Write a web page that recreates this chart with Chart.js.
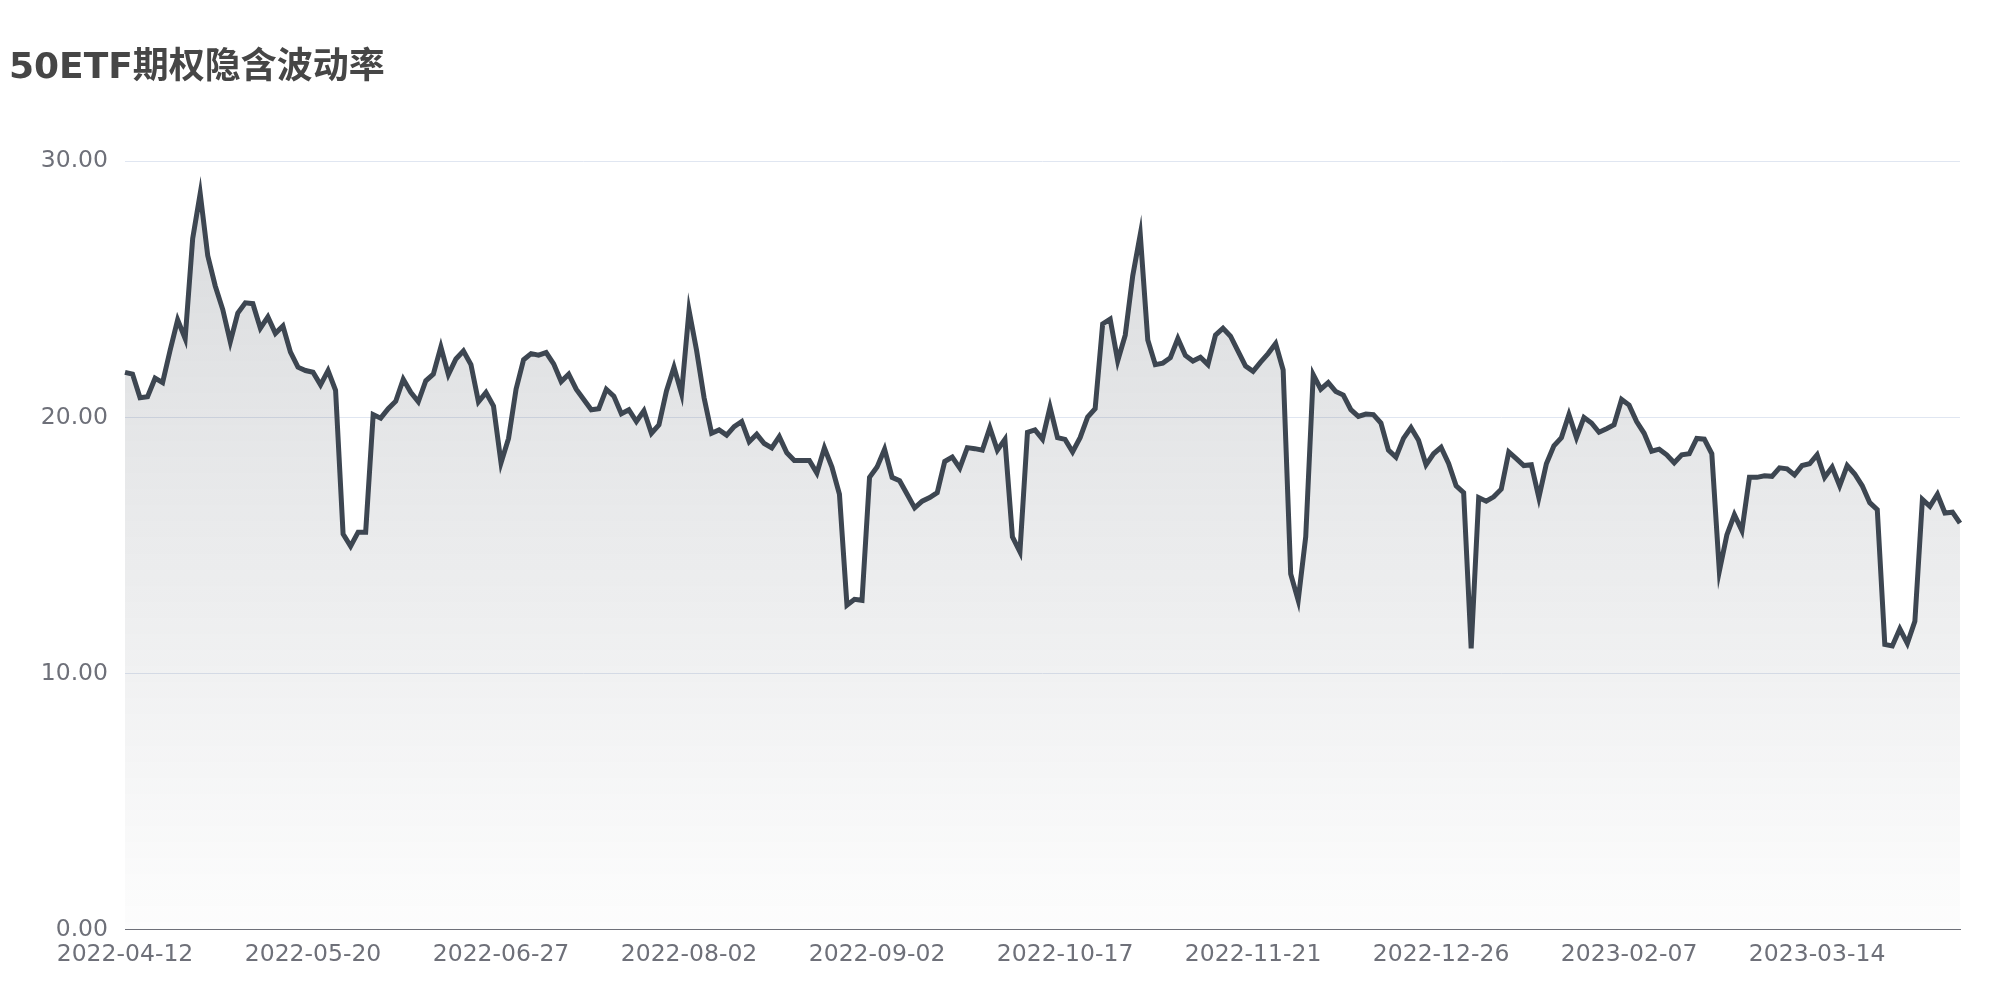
<!DOCTYPE html>
<html>
<head>
<meta charset="utf-8">
<script src="https://cdn.jsdelivr.net/npm/chart.js@4"></script>
<style>
  html, body { margin: 0; padding: 0; background: #fff; }
  #wrap { width: 2000px; height: 1000px; }
</style>
</head>
<body>
<div id="wrap"><canvas id="ivChart"></canvas></div>
<script>
// dates shown under the x axis, one every 25 trading days
const tickDates = ['2022-04-12', '2022-05-20', '2022-06-27', '2022-08-02', '2022-09-02',
  '2022-10-17', '2022-11-21', '2022-12-26', '2023-02-07', '2023-03-14'];
const tickEvery = 25;

// 50ETF implied volatility
const ivValues = [
  21.76, 21.69, 20.77, 20.81, 21.53, 21.36, 22.62, 23.81, 23.08, 26.98,
  28.74, 26.32, 25.13, 24.21, 22.95, 24.07, 24.47, 24.44, 23.48, 23.92,
  23.28, 23.57, 22.55, 21.96, 21.83, 21.76, 21.27, 21.83, 21.06, 15.45,
  14.97, 15.52, 15.52, 20.11, 19.97, 20.34, 20.63, 21.49, 20.98, 20.61,
  21.43, 21.69, 22.75, 21.67, 22.28, 22.59, 22.06, 20.61, 20.97, 20.44,
  18.23, 19.18, 21.10, 22.25, 22.49, 22.43, 22.53, 22.09, 21.40, 21.69,
  21.10, 20.70, 20.30, 20.34, 21.10, 20.83, 20.14, 20.30, 19.84, 20.26,
  19.38, 19.71, 21.03, 21.96, 20.93, 24.18, 22.62, 20.77, 19.38, 19.51,
  19.31, 19.64, 19.84, 19.05, 19.34, 18.98, 18.81, 19.25, 18.62, 18.32,
  18.32, 18.32, 17.83, 18.81, 18.06, 17.00, 12.67, 12.90, 12.86, 17.66,
  18.06, 18.76, 17.66, 17.53, 17.00, 16.47, 16.73, 16.87, 17.06, 18.28,
  18.45, 18.02, 18.82, 18.78, 18.72, 19.60, 18.72, 19.14, 15.34, 14.75,
  19.42, 19.51, 19.15, 20.40, 19.21, 19.14, 18.65, 19.21, 20.01, 20.34,
  23.65, 23.84, 22.21, 23.21, 25.53, 27.14, 23.02, 22.06, 22.12, 22.33,
  23.08, 22.42, 22.20, 22.35, 22.06, 23.21, 23.48, 23.17, 22.59, 22.00,
  21.80, 22.16, 22.49, 22.88, 21.85, 13.89, 12.86, 15.34, 21.67, 21.10,
  21.36, 21.01, 20.87, 20.30, 20.04, 20.13, 20.11, 19.78, 18.72, 18.45,
  19.18, 19.60, 19.11, 18.15, 18.58, 18.83, 18.20, 17.33, 17.06, 10.98,
  16.87, 16.73, 16.90, 17.20, 18.65, 18.39, 18.12, 18.15, 16.87, 18.19,
  18.89, 19.21, 20.11, 19.21, 20.00, 19.78, 19.42, 19.56, 19.71, 20.70,
  20.48, 19.84, 19.38, 18.68, 18.76, 18.54, 18.23, 18.54, 18.58, 19.18,
  19.15, 18.58, 14.00, 15.41, 16.20, 15.58, 17.66, 17.66, 17.72, 17.70,
  18.03, 17.99, 17.75, 18.12, 18.19, 18.54, 17.66, 18.06, 17.33, 18.12,
  17.79, 17.33, 16.67, 16.40, 11.14, 11.08, 11.75, 11.18, 12.04, 16.80,
  16.53, 17.00, 16.27, 16.30, 15.87
];

const xLabels = ivValues.map((v, i) => (i % tickEvery === 0 ? tickDates[i / tickEvery] : ''));

Chart.defaults.font.family = '"DejaVu Sans", "Noto Sans CJK SC", sans-serif';
Chart.defaults.animation = false;

const lineColor = '#3d4651';

const ctx = document.getElementById('ivChart').getContext('2d');
const ivChart = new Chart(ctx, {
  type: 'line',
  data: {
    labels: xLabels,
    datasets: [{
      label: '隐含波动率',
      data: ivValues,
      borderColor: lineColor,
      borderWidth: 5,
      pointRadius: 0,
      tension: 0,
      fill: 'origin',
      backgroundColor: (c) => {
        const area = c.chart.chartArea;
        if (!area) return 'rgba(61,70,81,0.1)';
        const g = c.chart.ctx.createLinearGradient(0, area.top, 0, area.bottom);
        g.addColorStop(0, 'rgba(61,70,81,0.2)');
        g.addColorStop(1, 'rgba(61,70,81,0.01)');
        return g;
      }
    }]
  },
  options: {
    responsive: true,
    maintainAspectRatio: false,
    layout: {
      padding: { top: 47, left: 9, right: 40, bottom: 20 }
    },
    plugins: {
      legend: { display: false },
      tooltip: { enabled: false },
      title: {
        display: true,
        text: '50ETF期权隐含波动率',
        align: 'start',
        color: '#464646',
        font: { size: 36, weight: 'bold' },
        padding: { top: 0, bottom: 71 }
      }
    },
    scales: {
      x: {
        ticks: {
          autoSkip: false,
          maxRotation: 0,
          minRotation: 0,
          color: '#6e7079',
          font: { size: 23.5 },
          padding: 11,
          callback: (v, i) => xLabels[i]
        },
        grid: { display: false, drawTicks: false },
        border: { color: '#6e7079', width: 1 }
      },
      y: {
        min: 0,
        max: 30,
        ticks: {
          stepSize: 10,
          color: '#6e7079',
          font: { size: 23.5 },
          padding: 17,
          callback: (v) => v.toFixed(2)
        },
        grid: { color: '#e0e6f1', drawTicks: false },
        border: { display: false },
        afterFit: (s) => { s.width = 116; }
      }
    }
  }
});
</script>
</body>
</html>
